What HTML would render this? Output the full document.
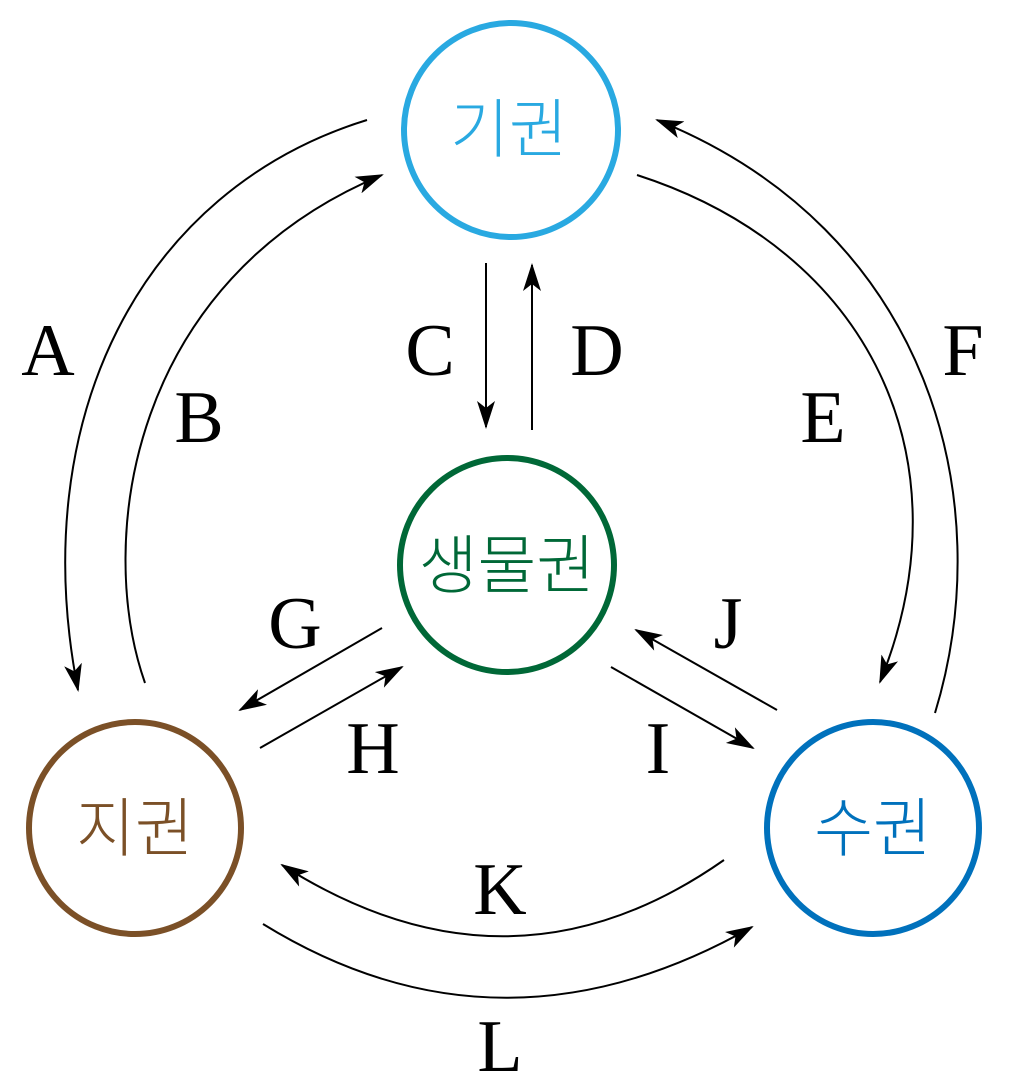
<!DOCTYPE html>
<html><head><meta charset="utf-8"><style>
html,body{margin:0;padding:0;background:#fff;}
svg{display:block;}
.l{font-family:"Liberation Serif",serif;font-size:74px;fill:#000;text-anchor:middle;}
.k{font-family:"Noto Sans CJK KR",sans-serif;font-size:64px;font-weight:300;text-anchor:middle;}
</style></head><body>
<svg width="1012" height="1089" viewBox="0 0 1012 1089" xmlns="http://www.w3.org/2000/svg">
<defs>
<marker id="a" viewBox="0 0 28 18" refX="26" refY="9" markerWidth="28" markerHeight="18" markerUnits="userSpaceOnUse" orient="auto">
<path d="M0,0 L28,9 L0,18 L7,9 Z" fill="#000"/>
</marker>
</defs>
<g fill="none" stroke-width="6">
<circle cx="511" cy="130" r="107" stroke="#29a9e1"/>
<circle cx="507" cy="565" r="107" stroke="#006837"/>
<circle cx="135" cy="828" r="106" stroke="#7b5027"/>
<circle cx="873" cy="828" r="106" stroke="#0071bc"/>
</g>
<text class="k" x="509" y="152" fill="#29a9e1">기권</text>
<text class="k" x="507" y="588" fill="#006837">생물권</text>
<text class="k" x="135" y="851" fill="#7b5027">지권</text>
<text class="k" x="873" y="851" fill="#0071bc">수권</text>
<g fill="none" stroke="#000" stroke-width="2">
<path d="M367,120 C140,190 25,420 78,690" marker-end="url(#a)"/>
<path d="M145,683 C95,540 130,280 382,175" marker-end="url(#a)"/>
<path d="M637,175 C870,250 970,460 880,682" marker-end="url(#a)"/>
<path d="M935,713 C1000,500 930,230 657,120" marker-end="url(#a)"/>
<path d="M486,263 L486,427" marker-end="url(#a)"/>
<path d="M532,430 L532,265" marker-end="url(#a)"/>
<path d="M382,628 L240,710" marker-end="url(#a)"/>
<path d="M260,748 L402,667" marker-end="url(#a)"/>
<path d="M611,667 L753,748" marker-end="url(#a)"/>
<path d="M777,710 L636,630" marker-end="url(#a)"/>
<path d="M724,860 Q510,1010 282,865" marker-end="url(#a)"/>
<path d="M263,924 Q500,1070 752,927" marker-end="url(#a)"/>
</g>
<text class="l" x="48" y="375">A</text>
<text class="l" x="199" y="442">B</text>
<text class="l" x="430" y="375">C</text>
<text class="l" x="597" y="375">D</text>
<text class="l" x="823" y="442">E</text>
<text class="l" x="963" y="375">F</text>
<text class="l" x="295" y="648">G</text>
<text class="l" x="373" y="773">H</text>
<text class="l" x="658" y="773">I</text>
<text class="l" x="728" y="648">J</text>
<text class="l" x="500" y="914">K</text>
<text class="l" x="500" y="1071">L</text>
</svg>
</body></html>
